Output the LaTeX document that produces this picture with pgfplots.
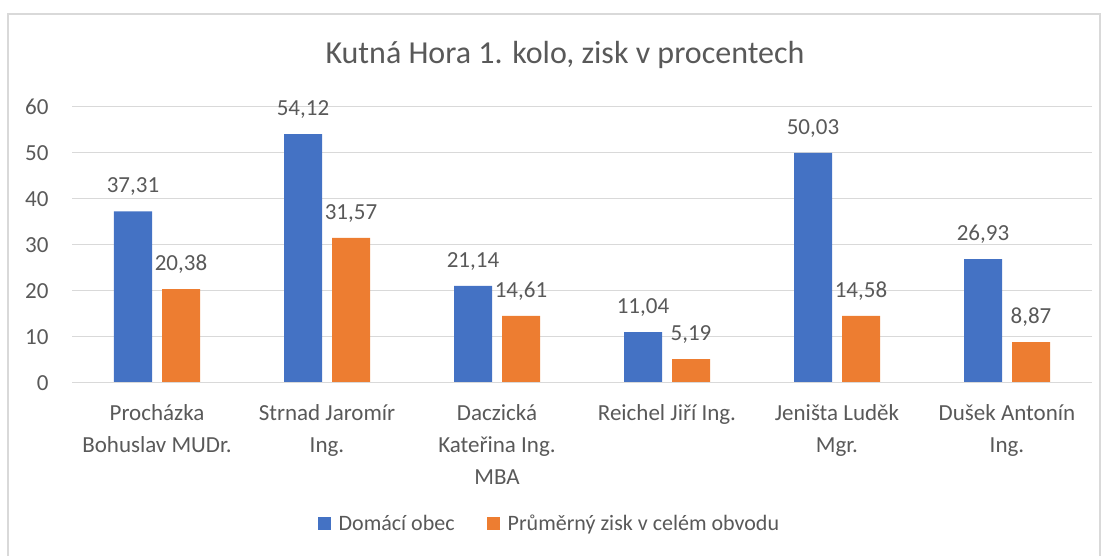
\documentclass[border=0pt]{standalone}
\usepackage{pgfplots}
\pgfplotsset{compat=1.18}
\usepackage{fontspec}
\setmainfont{Carlito}
\definecolor{cblue}{HTML}{4472C4}
\definecolor{corange}{HTML}{ED7D31}
\definecolor{ctext}{HTML}{595959}
\definecolor{cgrid}{HTML}{D9D9D9}
\begin{document}
\begin{tikzpicture}[x=1pt,y=1pt]
\path[use as bounding box] (0,0) rectangle (1108,556);
\draw[cgrid, line width=1.2pt] (8,-5) -- (8,542) -- (1100,542) -- (1100,-5);
\node[text=ctext, font=\fontsize{32}{36}\selectfont] at (565,501) {Kutná Hora 1. kolo, zisk v procentech};
\begin{axis}[
  at={(72pt,173pt)}, anchor=south west,
  scale only axis, width=1020pt, height=276pt,
  ybar=10pt, bar width=38pt,
  xmin=-0.5, xmax=5.5, ymin=0, ymax=60,
  ytick={0,10,...,60},
  xtick=data,
  xticklabels={{Procházka\\Bohuslav MUDr.},{Strnad Jaromír\\Ing.},{Daczická\\Kateřina Ing.\\MBA},{Reichel Jiří Ing.},{Jeništa Luděk\\Mgr.},{Dušek Antonín\\Ing.}},
  xticklabel style={align=center, font=\fontsize{23}{32}\selectfont, text=ctext, yshift=-18pt},
  yticklabel style={font=\fontsize{23}{26}\selectfont, text=ctext, xshift=-20pt},
  /pgf/number format/assume math mode=true,
  ymajorgrids, grid style={cgrid, line width=1pt},
  axis line style={draw=none},
  axis x line*=bottom,
  major tick length=0pt,
  nodes near coords,
  nodes near coords style={font=\fontsize{23}{26}\selectfont, text=ctext, yshift=12pt, /pgf/number format/.cd, use comma, fixed, fixed zerofill, precision=2, assume math mode=true},
  legend style={at={(0.468,-0.508)}, anchor=center, draw=none, legend columns=2, font=\fontsize{22}{26}\selectfont, text=ctext, /tikz/every odd column/.append style={column sep=6pt}, /tikz/every even column/.append style={column sep=30pt}},
  legend image code/.code={\fill[#1] (0pt,-6.5pt) rectangle (13pt,6.5pt);},
  clip=false,
]
\addplot[fill=cblue, draw=none] coordinates {(0,37.31) (1,54.12) (2,21.14) (3,11.04) (4,50.03) (5,26.93)};
\addplot[fill=corange, draw=none] coordinates {(0,20.38) (1,31.57) (2,14.61) (3,5.19) (4,14.58) (5,8.87)};
\legend{Domácí obec, Průměrný zisk v celém obvodu}
\draw[cgrid, line width=1pt] (axis cs:-0.5,0) -- (axis cs:5.5,0);
\end{axis}
\end{tikzpicture}
\end{document}
